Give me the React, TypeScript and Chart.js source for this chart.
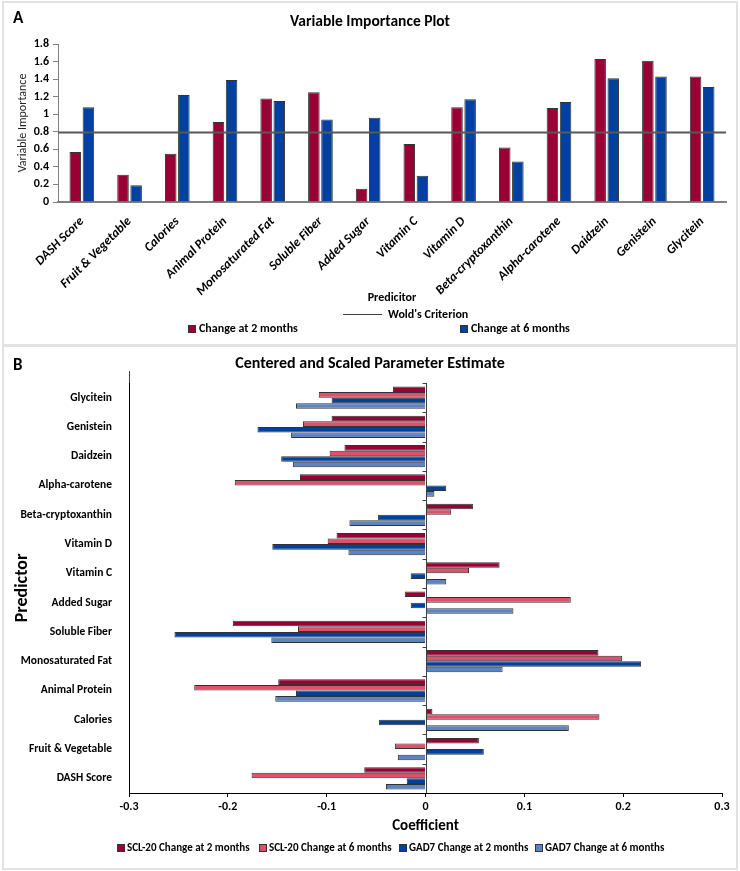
import React, { useEffect, useRef } from "react";
import { Chart, registerables } from "chart.js";
Chart.register(...registerables);

// ---------- data ----------
const CATEGORIES = [
  "DASH Score", "Fruit & Vegetable", "Calories", "Animal Protein", "Monosaturated Fat",
  "Soluble Fiber", "Added Sugar", "Vitamin C", "Vitamin D", "Beta-cryptoxanthin",
  "Alpha-carotene", "Daidzein", "Genistein", "Glycitein",
];
const VIP_2M = [0.57, 0.31, 0.55, 0.91, 1.18, 1.25, 0.15, 0.66, 1.08, 0.62, 1.07, 1.63, 1.61, 1.43];
const VIP_6M = [1.08, 0.19, 1.22, 1.39, 1.15, 0.94, 0.96, 0.30, 1.17, 0.46, 1.14, 1.41, 1.43, 1.31];
const WOLD = 0.8;
const VIP_MIN = 0;
const VIP_MAX = 1.8;
const VIP_STEP = 0.2;

// panel B, same category order as CATEGORIES (DASH Score ... Glycitein)
const SCL20_2M = [-0.062, 0.054, 0.007, -0.149, 0.175, -0.195, -0.021, 0.075, -0.090, 0.048, -0.127, -0.082, -0.095, -0.033];
const SCL20_6M = [-0.176, -0.031, 0.176, -0.234, 0.199, -0.129, 0.147, 0.044, -0.099, 0.026, -0.193, -0.097, -0.124, -0.108];
const GAD7_2M = [-0.019, 0.059, -0.047, -0.131, 0.218, -0.254, -0.015, -0.015, -0.155, -0.048, 0.021, -0.146, -0.170, -0.095];
const GAD7_6M = [-0.040, -0.028, 0.145, -0.152, 0.078, -0.156, 0.089, 0.021, -0.078, -0.077, 0.009, -0.134, -0.136, -0.131];
const COEF_MIN = -0.3;
const COEF_MAX = 0.3;
const COEF_STEP = 0.1;

const SERIES_A = ["Change at 2 months", "Change at 6 months"];
const SERIES_B = [
  "SCL-20 Change at 2 months", "SCL-20 Change at 6 months",
  "GAD7 Change at 2 months", "GAD7 Change at 6 months",
];

// ---------- styles ----------
const FONT = "Carlito, Lato, 'Open Sans', sans-serif";
const RED = "#990033";
const BLUE = "#0040A0";
const PINK = "#E0506A";
const LBLUE = "#5A85C2";
const EDGE = "#333333";

const fmt = (v: number) => String(Number(Number(v).toFixed(1)));

export default function App() {
  const refA = useRef<HTMLCanvasElement | null>(null);
  const refB = useRef<HTMLCanvasElement | null>(null);

  useEffect(() => {
    document.body.style.margin = "0";
    const woldPlugin = {
      id: "wold",
      afterDatasetsDraw(chart: any) {
        const { ctx, chartArea, scales } = chart;
        const y = Math.round(scales.y.getPixelForValue(WOLD)) + 0.5;
        ctx.save();
        ctx.strokeStyle = "#595959";
        ctx.lineWidth = 2;
        ctx.beginPath();
        ctx.moveTo(chartArea.left, y);
        ctx.lineTo(chartArea.right, y);
        ctx.stroke();
        ctx.restore();
      },
    };
    const chartA = new Chart(refA.current!, {
      type: "bar",
      data: {
        labels: CATEGORIES,
        datasets: [
          { label: SERIES_A[0], data: VIP_2M, backgroundColor: RED, borderColor: EDGE, borderWidth: 1, categoryPercentage: 0.55, barPercentage: 0.88 },
          { label: SERIES_A[1], data: VIP_6M, backgroundColor: BLUE, borderColor: EDGE, borderWidth: 1, categoryPercentage: 0.55, barPercentage: 0.88 },
        ],
      },
      options: {
        responsive: false,
        animation: false,
        layout: { padding: { top: 44, right: 14, left: 0, bottom: 0 } },
        plugins: { legend: { display: false }, title: { display: false }, tooltip: { enabled: false } },
        scales: {
          x: {
            grid: { display: false },
            border: { display: true, color: "#808080", width: 2 },
            ticks: {
              minRotation: 45, maxRotation: 45, autoSkip: false, padding: 4, color: "#000",
              font: { family: FONT, size: 13, style: "italic", weight: "bold" },
            },
            title: {
              display: true, text: "Predicitor", color: "#000",
              font: { family: FONT, size: 12, weight: "bold" }, padding: { top: 0, bottom: 41 },
            },
            afterFit: (s: any) => { s.height = 144; },
          },
          y: {
            min: VIP_MIN, max: VIP_MAX,
            ticks: { stepSize: VIP_STEP, callback: (v: any) => fmt(v), color: "#000", padding: 4, font: { family: FONT, size: 12, weight: "bold" } },
            grid: { display: true, drawOnChartArea: false, drawTicks: true, tickLength: 5, color: "#808080" },
            border: { display: true, color: "#808080", width: 1 },
            title: {
              display: true, text: "Variable Importance", color: "#222",
              font: { family: FONT, size: 12 }, padding: { top: 16, bottom: 0 },
            },
            afterFit: (s: any) => { s.width = 58; },
          },
        },
      },
      plugins: [woldPlugin],
    } as any);

    const rev = (a: any[]) => a.slice().reverse();
    const zeroPlugin = {
      id: "zeroAxis",
      afterDatasetsDraw(chart: any) {
        const { ctx, chartArea, scales } = chart;
        const x0 = Math.round(scales.x.getPixelForValue(0)) + 0.5;
        const n = CATEGORIES.length;
        ctx.save();
        ctx.strokeStyle = "#404040";
        ctx.lineWidth = 1;
        ctx.beginPath();
        ctx.moveTo(x0, chartArea.top);
        ctx.lineTo(x0, chartArea.bottom);
        for (let i = 0; i < n; i++) {
          const y = Math.round(chartArea.top + (i * (chartArea.bottom - chartArea.top)) / n) + 0.5;
          ctx.moveTo(x0 - 4, y);
          ctx.lineTo(x0, y);
        }
        const xl = Math.round(chartArea.left) + 0.5;
        ctx.moveTo(xl, chartArea.top - 12);
        ctx.lineTo(xl, chartArea.top);
        ctx.stroke();
        ctx.restore();
      },
    };
    const common = { borderColor: EDGE, borderWidth: 1, categoryPercentage: 0.76, barPercentage: 1.0 };
    const chartB = new Chart(refB.current!, {
      type: "bar",
      data: {
        labels: rev(CATEGORIES),
        datasets: [
          { label: SERIES_B[0], data: rev(SCL20_2M), backgroundColor: RED, ...common },
          { label: SERIES_B[1], data: rev(SCL20_6M), backgroundColor: PINK, ...common },
          { label: SERIES_B[2], data: rev(GAD7_2M), backgroundColor: BLUE, ...common },
          { label: SERIES_B[3], data: rev(GAD7_6M), backgroundColor: LBLUE, ...common },
        ],
      },
      options: {
        indexAxis: "y",
        responsive: false,
        animation: false,
        layout: { padding: { top: 37, right: 18, left: 0, bottom: 0 } },
        plugins: { legend: { display: false }, title: { display: false }, tooltip: { enabled: false } },
        scales: {
          x: {
            min: COEF_MIN, max: COEF_MAX,
            ticks: { stepSize: COEF_STEP, callback: (v: any) => fmt(v), color: "#000", padding: 3, font: { family: FONT, size: 12, weight: "bold" } },
            grid: { display: true, drawOnChartArea: false, drawTicks: true, tickLength: 4, color: "#000" },
            border: { display: true, color: "#000", width: 1 },
            title: {
              display: true, text: "Coefficient", color: "#000",
              font: { family: FONT, size: 15, weight: "bold" }, padding: { top: 0, bottom: 36 },
            },
            afterFit: (s: any) => { s.height = 78; },
          },
          y: {
            grid: { display: false },
            border: { display: true, color: "#000", width: 1 },
            ticks: { color: "#000", padding: 9, autoSkip: false, font: { family: FONT, size: 11.5, weight: "bold" } },
            title: {
              display: true, text: "Predictor", color: "#000",
              font: { family: FONT, size: 18, weight: "bold" }, padding: { top: 12, bottom: 0 },
            },
            afterFit: (s: any) => { s.width = 129; },
          },
        },
      },
      plugins: [zeroPlugin],
    } as any);

    return () => { chartA.destroy(); chartB.destroy(); };
  }, []);

  const text = (x: number, y: number, t: string, size: number, extra: any = {}) => (
    <div style={{ position: "absolute", left: x, top: y - size * 0.65, lineHeight: `${size * 1.3}px`, fontSize: size, fontWeight: 700, whiteSpace: "nowrap", color: "#000", ...extra }}>{t}</div>
  );
  const swatch = (cx: number, cy: number, color: string) => (
    <div style={{ position: "absolute", left: cx - 4, top: cy - 4, width: 8, height: 8, background: color, border: `1px solid ${EDGE}`, boxSizing: "border-box" }} />
  );

  return (
    <div style={{ position: "relative", width: 740, height: 871, background: "#fff", fontFamily: FONT, overflow: "hidden" }}>
      <div style={{ position: "absolute", left: 2, top: 1, width: 732, height: 341, border: "2px solid #e2e2e2" }} />
      <div style={{ position: "absolute", left: 2, top: 345, width: 732, height: 521, border: "2px solid #e2e2e2" }} />
      <canvas ref={refA} width={740} height={346} style={{ position: "absolute", left: 0, top: 0, width: 740, height: 346 }} />
      <canvas ref={refB} width={740} height={525} style={{ position: "absolute", left: 0, top: 346, width: 740, height: 525 }} />

      {text(13, 18, "A", 17)}
      {text(13, 365, "B", 17)}
      <div style={{ position: "absolute", left: 0, width: 740, top: 11, lineHeight: "20px", fontSize: 15.5, fontWeight: 700, textAlign: "center" }}>Variable Importance Plot</div>
      <div style={{ position: "absolute", left: 0, width: 740, top: 353, lineHeight: "20px", fontSize: 16, fontWeight: 700, textAlign: "center" }}>Centered and Scaled Parameter Estimate</div>

      <div style={{ position: "absolute", left: 343, top: 314, width: 39, height: 0, borderTop: "1.5px solid #404040" }} />
      {text(388, 315, "Wold's Criterion", 12)}
      {swatch(192, 329, RED)}
      {text(199, 329, SERIES_A[0], 12)}
      {swatch(464, 329, BLUE)}
      {text(471, 329, SERIES_A[1], 12)}

      {swatch(121, 848, RED)}
      {text(127, 848, SERIES_B[0], 11)}
      {swatch(263, 848, PINK)}
      {text(269, 848, SERIES_B[1], 11)}
      {swatch(403, 848, BLUE)}
      {text(409, 848, SERIES_B[2], 11)}
      {swatch(539, 848, LBLUE)}
      {text(545, 848, SERIES_B[3], 11)}
    </div>
  );
}
